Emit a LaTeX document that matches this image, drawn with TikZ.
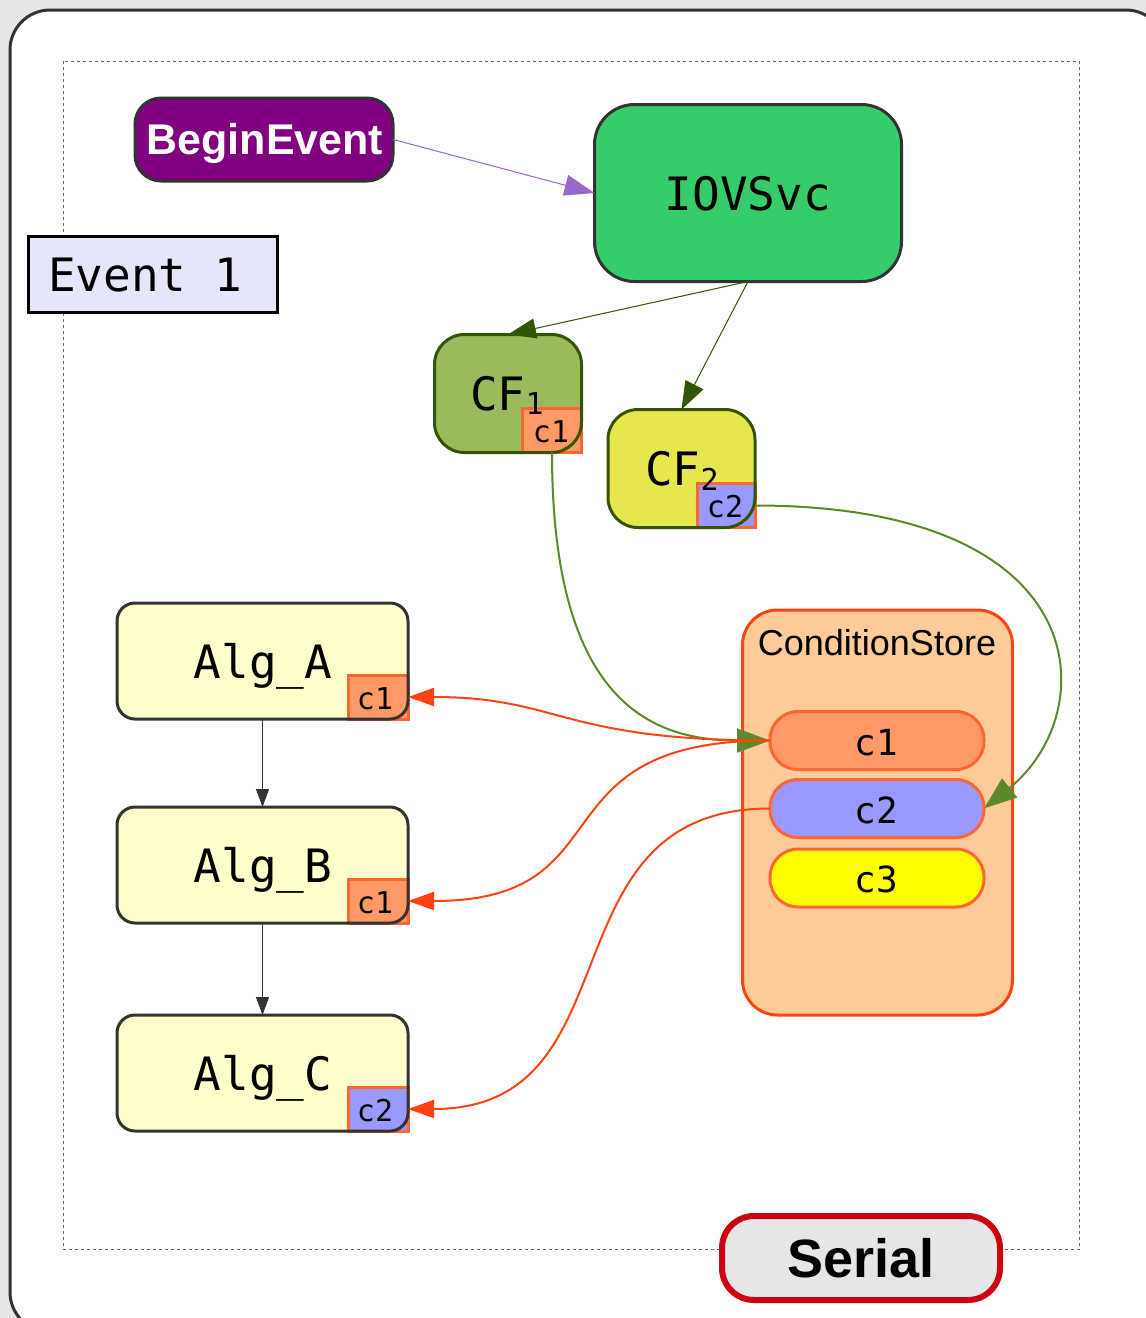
\documentclass[tikz,border=0pt]{standalone}
\usepackage{fontspec}
\setmainfont{Liberation Sans}
\newfontfamily\monof{DejaVu Sans Mono}
\usetikzlibrary{arrows.meta}
\definecolor{bggray}{HTML}{E6E6E6}
\definecolor{darkB}{HTML}{333333}
\definecolor{purpleF}{HTML}{800080}
\definecolor{iovF}{HTML}{36CC6A}
\definecolor{cfOneF}{HTML}{99BB5B}
\definecolor{cfTwoF}{HTML}{E6E64D}
\definecolor{cfB}{HTML}{335500}
\definecolor{algF}{HTML}{FFFFCC}
\definecolor{cOneF}{HTML}{FF9966}
\definecolor{cTwoF}{HTML}{9999FF}
\definecolor{cThreeF}{HTML}{FFFF00}
\definecolor{tagB}{HTML}{FF6633}
\definecolor{storeF}{HTML}{FFCC99}
\definecolor{storeB}{HTML}{FF4411}
\definecolor{serialB}{HTML}{CC0011}
\definecolor{eventF}{HTML}{E6E6FA}
\definecolor{greenL}{HTML}{5B8A2A}
\definecolor{purpleL}{HTML}{9966CC}
\begin{document}
\begin{tikzpicture}[x=1pt,y=-1pt,
  every node/.style={inner sep=0pt,outer sep=0pt},
  monotext/.style={font={\monof\fontsize{46}{50}\selectfont}},
  tagtext/.style={font={\monof\fontsize{30}{32}\selectfont}},
  pilltext/.style={font={\monof\fontsize{36}{40}\selectfont}},
  tagbox/.style={draw=tagB,line width=3pt,minimum width=60pt,minimum height=44pt,anchor=south east},
  algbox/.style={fill=algF,rounded corners=18pt,minimum width=291pt,minimum height=116pt},
  algborder/.style={draw=darkB,line width=3pt,rounded corners=18pt},
  cfborder/.style={draw=cfB,line width=3pt,rounded corners=30pt},
  pill/.style={draw=tagB,line width=3pt,rounded corners=28pt,minimum width=214pt,minimum height=58pt},
  purplearrow/.style={draw=purpleL,line width=1pt,-{Triangle[length=30pt,width=21pt]}},
  oarrow/.style={draw=cfB,line width=1pt,-{Triangle[length=28pt,width=20pt]}},
  garrow/.style={draw=greenL,line width=2pt,-{Triangle[length=33pt,width=24pt]}},
  rarrow/.style={draw=storeB,line width=2pt,-{Triangle[length=26pt,width=18pt]}},
  karrow/.style={draw=darkB,line width=1pt,-{Triangle[length=18pt,width=13pt]}}
]
\path[use as bounding box] (0,0) rectangle (1146,1318);
\fill[bggray] (0,0) rectangle (1146,1318);
\begin{scope}
\clip (0,0) rectangle (1146,1318);
\draw[line width=3pt,draw=darkB,fill=white,rounded corners=40pt] (10,10) rectangle (1166,1332);
\end{scope}
\draw[dashed,dash pattern=on 3pt off 3pt,draw=black!60,line width=1pt] (63.5,61) rectangle (1079,1249.5);

% Event 1
\node[draw=black,line width=3pt,fill=eventF,minimum width=249pt,minimum height=76pt] (ev) at (152.5,274.5) {};
\node[monotext,anchor=base west] (evt) at (48,291) {Event 1};

% BeginEvent
\node[fill=purpleF,draw=darkB,line width=3pt,rounded corners=26pt,minimum width=258pt,minimum height=83pt] (be) at (264,139.5) {};
\node[font={\bfseries\fontsize{43}{45}\selectfont},text=white,anchor=base] (bet) at (265,154) {BeginEvent};

% IOVSvc
\node[fill=iovF,draw=darkB,line width=3pt,rounded corners=40pt,minimum width=307pt,minimum height=177pt] (iov) at (748,193) {};
\node[monotext,anchor=base] (iovt) at (748,210) {IOVSvc};

% CF1
\node[fill=cfOneF,rounded corners=30pt,minimum width=147pt,minimum height=118pt] (cf1) at (508,393.5) {};
\node[tagbox,fill=cOneF,minimum width=59pt] (tag1) at (cf1.south east) {};
\draw[cfborder] (cf1.north west) rectangle (cf1.south east);
\node[monotext,anchor=base] (cf1t) at (507,410) {CF\raisebox{-4pt}{\fontsize{30}{30}\selectfont 1}};
\node[tagtext,anchor=base,yshift=10pt,xshift=-1pt] (tag1t) at (tag1.south) {c1};

% CF2
\node[fill=cfTwoF,rounded corners=30pt,minimum width=147pt,minimum height=118pt] (cf2) at (681.5,468.5) {};
\node[tagbox,fill=cTwoF,minimum width=58pt] (tag2) at (cf2.south east) {};
\draw[cfborder] (cf2.north west) rectangle (cf2.south east);
\node[monotext,anchor=base] (cf2t) at (682,485) {CF\raisebox{-5pt}{\fontsize{30}{30}\selectfont 2}};
\node[tagtext,anchor=base,yshift=10pt,xshift=-1pt] (tag2t) at (tag2.south) {c2};

% Alg_A
\node[algbox] (algA) at (262.5,661) {};
\node[tagbox,fill=cOneF] (tagA) at (algA.south east) {};
\draw[algborder] (algA.north west) rectangle (algA.south east);
\node[monotext,anchor=base] (algAt) at (263,678) {Alg\_A};
\node[tagtext,anchor=base,yshift=10pt,xshift=-3pt] (tagAt) at (tagA.south) {c1};

% Alg_B
\node[algbox] (algB) at (262.5,865) {};
\node[tagbox,fill=cOneF] (tagB) at (algB.south east) {};
\draw[algborder] (algB.north west) rectangle (algB.south east);
\node[monotext,anchor=base] (algBt) at (263,882) {Alg\_B};
\node[tagtext,anchor=base,yshift=10pt,xshift=-3pt] (tagBt) at (tagB.south) {c1};

% Alg_C
\node[algbox] (algC) at (262.5,1073) {};
\node[tagbox,fill=cTwoF] (tagC) at (algC.south east) {};
\draw[algborder] (algC.north west) rectangle (algC.south east);
\node[monotext,anchor=base] (algCt) at (263,1090) {Alg\_C};
\node[tagtext,anchor=base,yshift=10pt,xshift=-3pt] (tagCt) at (tagC.south) {c2};

% ConditionStore
\node[fill=storeF,draw=storeB,line width=3pt,rounded corners=35pt,minimum width=270pt,minimum height=405pt] (store) at (877.5,812.5) {};
\node[font={\fontsize{36}{40}\selectfont},anchor=base] (storet) at (877,655) {ConditionStore};
\node[pill,fill=cOneF] (pc1) at (877,740.5) {};
\node[pilltext,anchor=base] (pc1t) at (876,755) {c1};
\node[pill,fill=cTwoF] (pc2) at (877,808.5) {};
\node[pilltext,anchor=base] (pc2t) at (876,823) {c2};
\node[pill,fill=cThreeF] (pc3) at (877,878) {};
\node[pilltext,anchor=base] (pc3t) at (876,892.5) {c3};

% Serial
\node[fill=bggray,draw=serialB,line width=6pt,rounded corners=32pt,minimum width=278pt,minimum height=84pt] (serial) at (861,1258) {};
\node[font={\bfseries\fontsize{54}{56}\selectfont},anchor=base] (serialt) at (861,1277) {Serial};

% connectors
\draw[purplearrow] (be.east) -- (iov.west);
\draw[oarrow] (iov.south) -- (cf1.north);
\draw[oarrow] (iov.south) -- (cf2.north);
\draw[karrow] (algA.south) -- (algB.north);
\draw[karrow] (algB.south) -- (algC.north);
\draw[garrow] (tag1.south) .. controls +(0,248) and +(-120,0) .. (pc1.west);
\draw[garrow] (tag2.east) .. controls +(345,0) and +(118,-95) .. (pc2.east);
\draw[rarrow] (pc1.west) .. controls +(-210,0) and +(152,0) .. (tagA.east);
\draw[rarrow] (pc1.west) .. controls +(-240,0) and +(222,0) .. (tagB.east);
\draw[rarrow] (pc2.west) .. controls +(-230,0) and +(232,0) .. (tagC.east);
\end{tikzpicture}
\end{document}
